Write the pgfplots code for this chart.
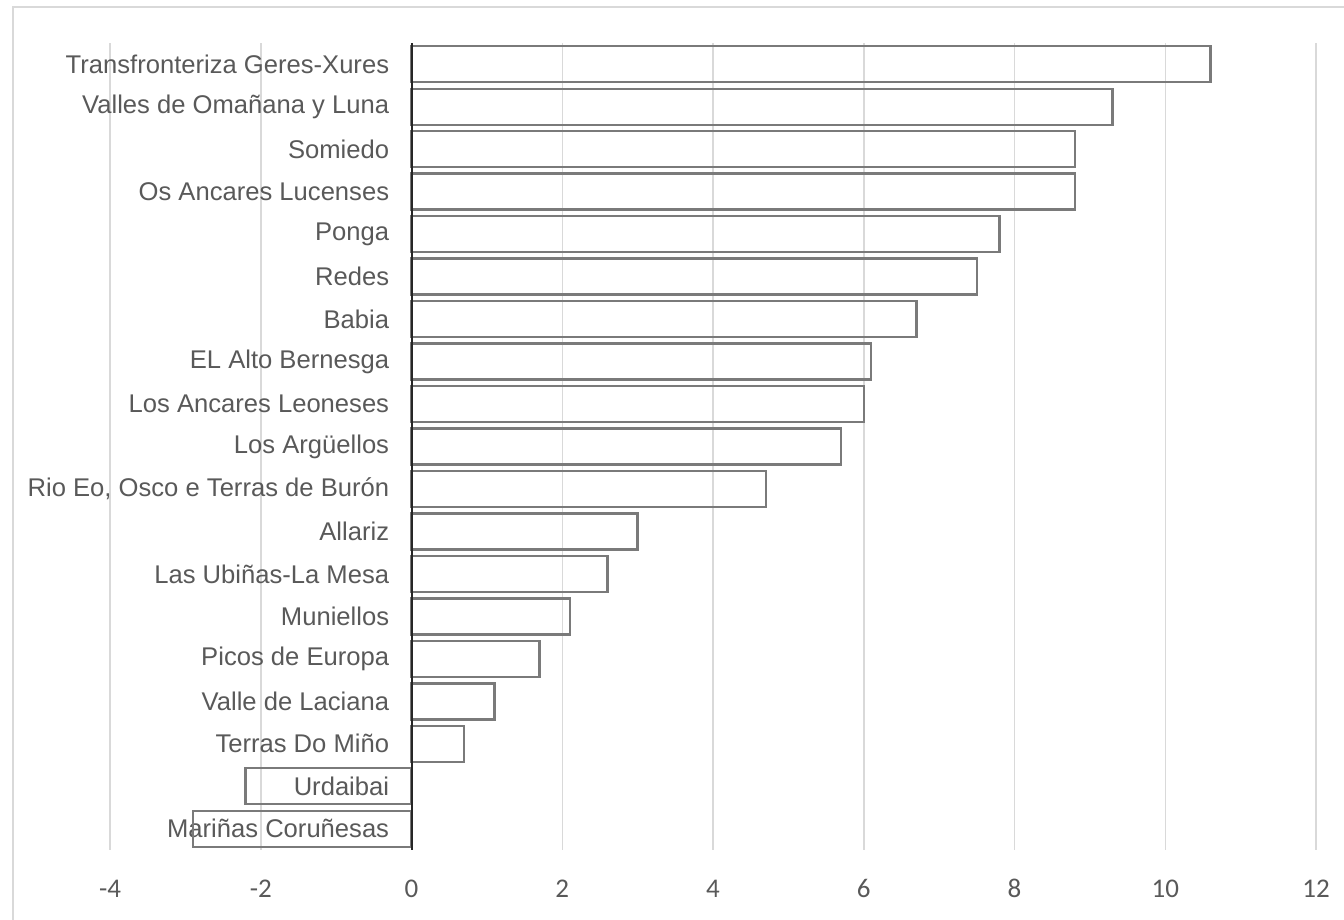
\documentclass[border=0pt]{standalone}
\usepackage{fontspec}
\setmainfont{Liberation Sans}
\newfontfamily\arial{Liberation Sans}
\newfontfamily\calibri{Carlito}
\usepackage{pgfplots}
\pgfplotsset{compat=1.18}
\definecolor{txt}{HTML}{595959}
\definecolor{grd}{HTML}{D9D9D9}
\definecolor{barc}{HTML}{7A7A7A}
\begin{document}
\begin{tikzpicture}
\useasboundingbox (-55pt,-35pt) rectangle (617pt,425pt);
\draw[grd, line width=1pt] (-48.5pt,-40pt) -- (-48.5pt,421.5pt) -- (625pt,421.5pt);
\begin{axis}[
  at={(0,0)}, anchor=south west,
  scale only axis,
  width=603pt, height=403.5pt,
  xmin=-4, xmax=12, ymin=-0.5, ymax=18.5,
  axis x line*=bottom,
  axis y line*=middle,
  x axis line style={draw=none},
  y axis line style={draw=black!85, line width=1pt},
  hide obscured x ticks=false,
  hide obscured y ticks=false,
  xtick={-4,-2,0,2,4,6,8,10,12},
  xticklabels={-4,-2,0,2,4,6,8,10,12},
  xmajorgrids,
  major grid style={grd, line width=0.75pt},
  major tick length=0pt,
  xticklabel style={font=\calibri\fontsize{13.5}{16}\selectfont, text=txt, anchor=base, inner sep=0pt, yshift=-23.5pt},
  ytick={0,...,18},
  yticklabels={Mariñas Coruñesas, Urdaibai, Terras Do Miño, Valle de Laciana, Picos de Europa, Muniellos, Las Ubiñas-La Mesa, Allariz, {Rio Eo, Osco e Terras de Burón}, Los Argüellos, Los Ancares Leoneses, EL Alto Bernesga, Babia, Redes, Ponga, Os Ancares Lucenses, Somiedo, Valles de Omañana y Luna, Transfronteriza Geres-Xures},
  yticklabel style={font=\arial\fontsize{12.8}{15}\selectfont, text=txt, anchor=east, inner sep=0pt, xshift=-11pt},
  clip=false,
]
\addplot[xbar, bar width=18pt, bar shift=0pt, draw=barc, line width=1.2pt, fill=none] coordinates {
(-2.9,0) (-2.2,1) (0.7,2) (1.1,3) (1.7,4) (2.1,5) (2.6,6) (3.0,7) (4.7,8) (5.7,9) (6.0,10) (6.1,11) (6.7,12) (7.5,13) (7.8,14) (8.8,15) (8.8,16) (9.3,17) (10.6,18)
};
\draw[black!85, line width=1pt] (axis cs:0,-0.5) -- (axis cs:0,18.5);
\end{axis}
\end{tikzpicture}
\end{document}
